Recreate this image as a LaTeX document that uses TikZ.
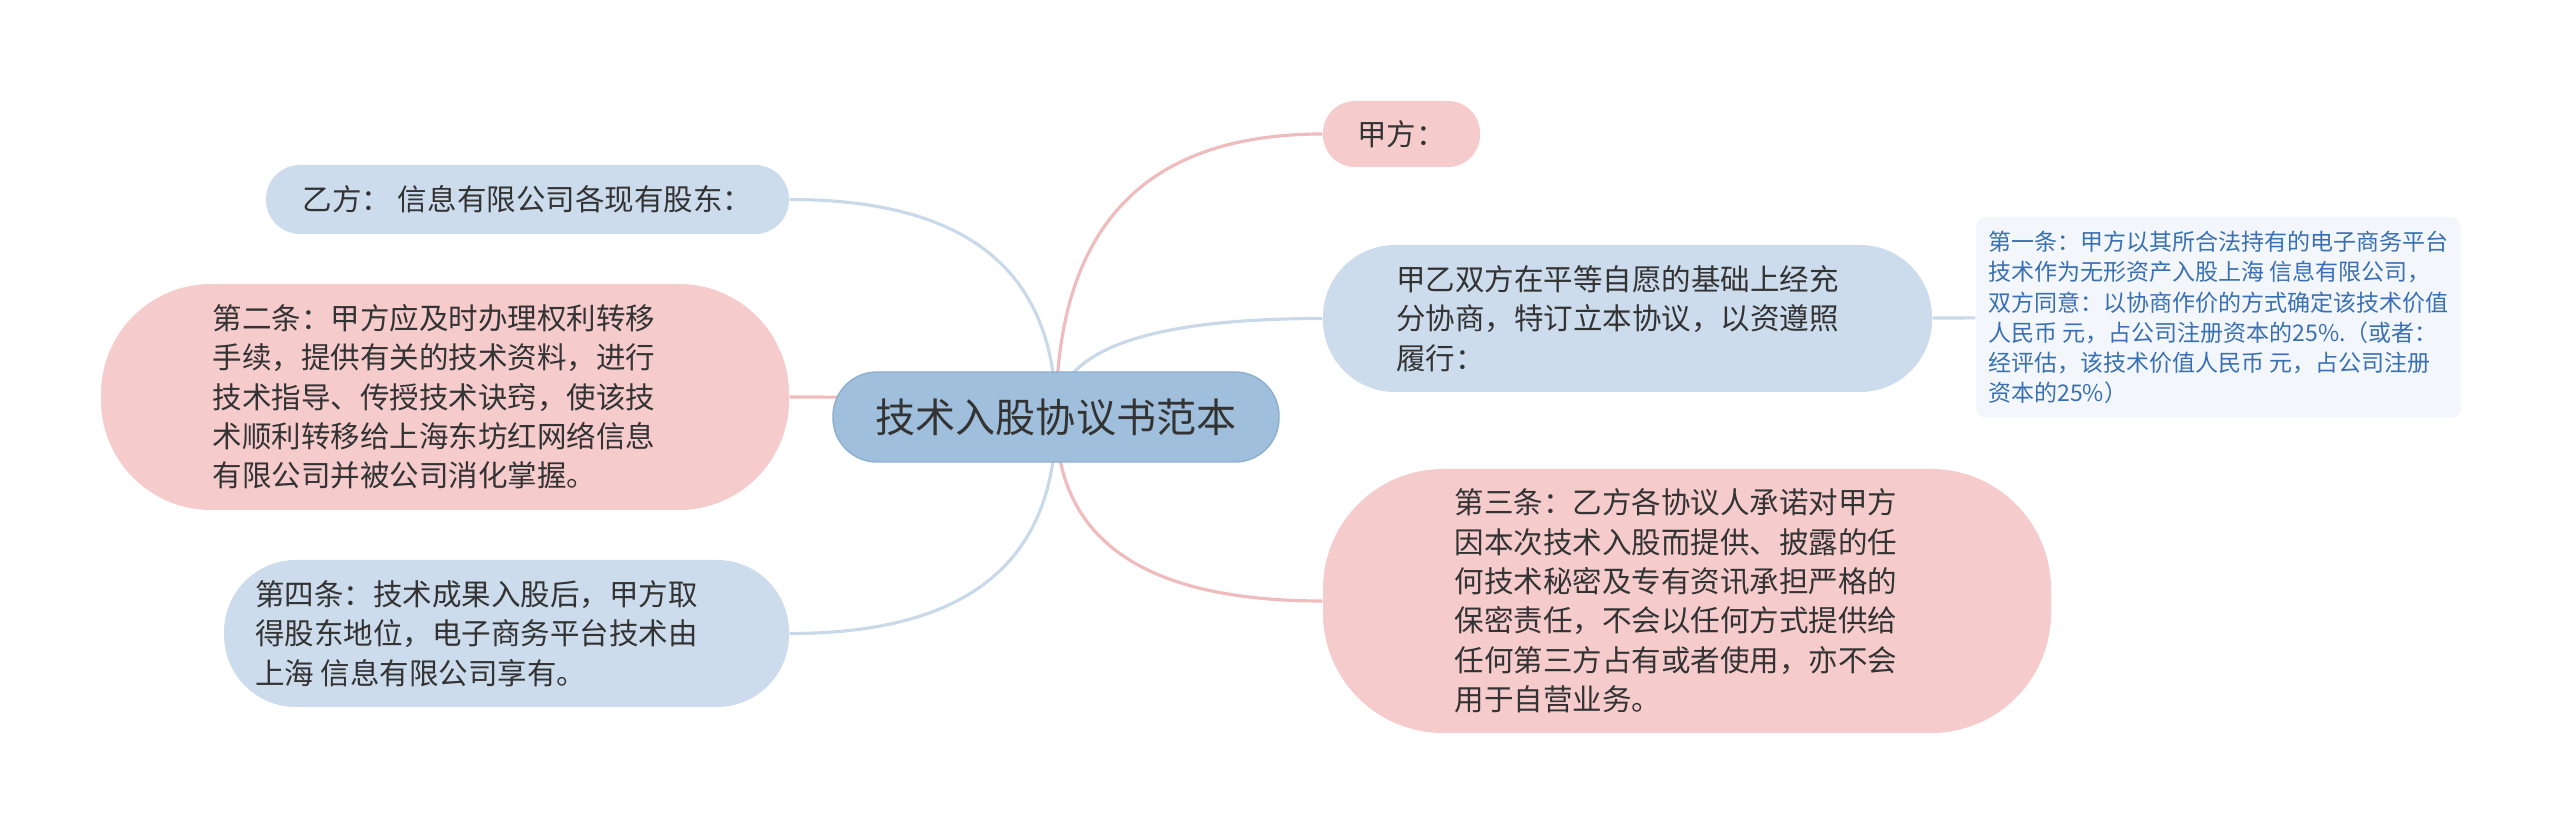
\documentclass[tikz,border=0pt]{standalone}
\usepackage{fontspec}
\setmainfont{Noto Sans CJK SC}
\usepackage{tikz}
\usetikzlibrary{calc, positioning, backgrounds}
\usepackage{xcolor}
\definecolor{rootblue}{HTML}{A0BFDC}
\definecolor{rootedge}{HTML}{8DAFD0}
\definecolor{topicblue}{HTML}{CCDCEC}
\definecolor{topicpink}{HTML}{F5CBCC}
\definecolor{notefill}{HTML}{F3F7FC}
\definecolor{notetext}{HTML}{3A70B2}
\definecolor{linepink}{HTML}{F0BBBC}
\definecolor{lineblue}{HTML}{C9D9E9}
\definecolor{textgray}{HTML}{333333}
\tikzstyle{topic}     = [rectangle, inner sep=0pt, align=left, text=textgray, font=\fontsize{8.4pt}{11.2pt}\selectfont]
\tikzstyle{bluetopic} = [topic, fill=topicblue]
\tikzstyle{pinktopic} = [topic, fill=topicpink]
\tikzstyle{central}   = [rectangle, inner sep=0pt, fill=rootblue, draw=rootedge, line width=0.4pt, text=textgray, font=\fontsize{11.4pt}{14pt}\selectfont, minimum width=4.46cm, minimum height=0.9cm, rounded corners=0.44cm]
\tikzstyle{note}      = [rectangle, inner sep=0pt, align=left, fill=notefill, rounded corners=0.1cm, text=notetext, font=\fontsize{6.55pt}{8.6pt}\selectfont]
\tikzstyle{pinkline}  = [linepink, line width=0.9pt]
\tikzstyle{blueline}  = [lineblue, line width=0.9pt]

\begin{document}
\begin{tikzpicture}
    \useasboundingbox (0,0) rectangle (25.6,-8.35);

    \node (root) [central] at (10.56,-4.17) {技术入股协议书范本};

    % right side
    \node (jia)  [pinktopic, minimum width=1.57cm, minimum height=0.66cm, rounded corners=0.32cm] at (14.015,-1.34) {甲方：};
    \node (both) [bluetopic, minimum width=6.09cm, minimum height=1.47cm, rounded corners=0.72cm] at (16.275,-3.185)
        {甲乙双方在平等自愿的基础上经充\hspace*{0.2cm}\\分协商，特订立本协议，以资遵照\\履行：};
    \node (art1) [note, minimum width=4.85cm, minimum height=2.01cm] at (22.185,-3.175)
        {第一条：甲方以其所合法持有的电子商务平台\\技术作为无形资产入股上海 信息有限公司，\\双方同意：以协商作价的方式确定该技术价值\\人民币 元，占公司注册资本的25\%.（或者：\\经评估，该技术价值人民币 元，占公司注册\\资本的25\%）};
    \node (art3) [pinktopic, minimum width=7.28cm, minimum height=2.64cm, rounded corners=1.2cm] at (16.87,-6.01)
        {第三条：乙方各协议人承诺对甲方\hspace*{0.22cm}\\因本次技术入股而提供、披露的任\\何技术秘密及专有资讯承担严格的\\保密责任，不会以任何方式提供给\\任何第三方占有或者使用，亦不会\\用于自营业务。};

    % left side
    \node (yi)   [bluetopic, minimum width=5.23cm, minimum height=0.69cm, rounded corners=0.34cm] at (5.275,-1.995) {乙方： 信息有限公司各现有股东：};
    \node (art2) [pinktopic, minimum width=6.88cm, minimum height=2.26cm, rounded corners=1.1cm] at (4.45,-3.97)
        {第二条：甲方应及时办理权利转移\hspace*{0.22cm}\\手续，提供有关的技术资料，进行\\技术指导、传授技术诀窍，使该技\\术顺利转移给上海东坊红网络信息\\有限公司并被公司消化掌握。};
    \node (art4) [bluetopic, minimum width=5.65cm, minimum height=1.47cm, rounded corners=0.72cm] at (5.065,-6.335)
        {第四条：技术成果入股后，甲方取\hspace*{0.6cm}\\得股东地位，电子商务平台技术由\\上海 信息有限公司享有。};

    \begin{scope}[on background layer]
        \draw [pinkline] (root.center) .. controls ($(root.center)!.67!(root.center |- jia.west)$) and ($(jia.west)!.67!(root.center |- jia.west)$) .. (jia.west);
        \draw [blueline] (root.center) .. controls ($(root.center)!.67!(root.center |- both.west)$) and ($(both.west)!.67!(root.center |- both.west)$) .. (both.west);
        \draw [pinkline] (root.center) .. controls ($(root.center)!.67!(root.center |- art3.west)$) and ($(art3.west)!.67!(root.center |- art3.west)$) .. (art3.west);
        \draw [blueline] (root.center) .. controls ($(root.center)!.67!(root.center |- yi.east)$) and ($(yi.east)!.67!(root.center |- yi.east)$) .. (yi.east);
        \draw [pinkline] (root.center) .. controls ($(root.center)!.67!(root.center |- art2.east)$) and ($(art2.east)!.67!(root.center |- art2.east)$) .. (art2.east);
        \draw [blueline] (root.center) .. controls ($(root.center)!.67!(root.center |- art4.east)$) and ($(art4.east)!.67!(root.center |- art4.east)$) .. (art4.east);
        \draw [blueline] (both) -- (art1);
    \end{scope}
\end{tikzpicture}
\end{document}
